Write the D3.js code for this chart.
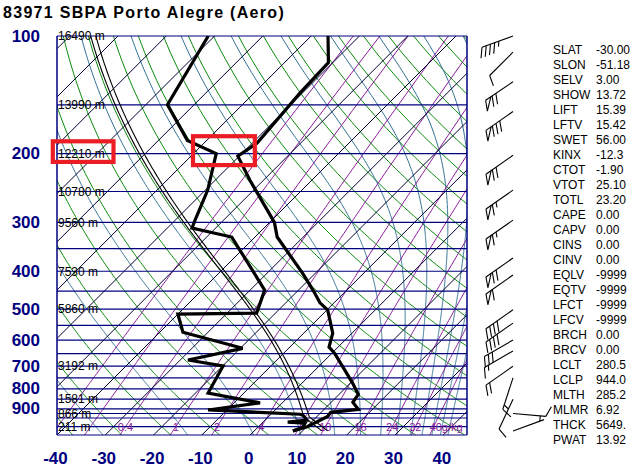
<!DOCTYPE html>
<html><head><meta charset="utf-8">
<script src="https://cdn.jsdelivr.net/npm/d3@7"></script>
<style>body{margin:0;background:#fff}svg{display:block}</style>
</head><body><svg id="c" width="643" height="468"></svg>
<script>
// ---------------- data ----------------
const title = "83971 SBPA Porto Alegre (Aero)";
const presTicks = [100,200,300,400,500,600,700,800,900];
const tempTicks = [-40,-30,-20,-10,0,10,20,30,40];
const isobars = [100,150,200,250,300,350,400,450,500,550,600,650,700,750,800,850,900,925,950,1000,1050];
const isotherms = [-130,-120,-110,-100,-90,-80,-70,-60,-50,-40,-30,-20,-10,0,10,20,30,40];
const dryThetaC = [-40,-30,-20,-10,0,10,20,30,40,50,60,70,80,90,100,110,120,130,140,150,160,170,180,190];
const moistThetaE = [240,260,280,300,320,340,360,380,400,420,440,460,480];
const mixRatios = [0.1,0.2,0.4,1,2,4,7,10,16,24,32,40];
const mixLabels = ["","","0.4","1","2","4","7","10","16","24","32","40g/kg"];
const heightP = [100,150,200,250,300,400,500,700,850,925,1000];
const heightLabels = ["16490 m","13990 m","12210 m","10780 m","9560 m","7530 m","5860 m","3192 m","1581 m","866 m","211 m"];

const tempP = [100,117,140,188,203,234,300,327,405,447,482,503,576,625,649,771,827,866,903,919,941,1000,1025];
const tempC = [-66.5,-60.9,-60.5,-59.0,-60.3,-52.8,-39.0,-35.4,-22.6,-17.0,-12.9,-9.8,-4.0,-1.9,0.6,10.3,14.0,14.5,17.1,12.0,12.2,10.1,8.0];
const dewP  = [100,150,185,200,248,296,310,327,447,512,515,573,630,675,699,820,869,906,929,934,962,973,979,1003,1025];
const dewC  = [-91.3,-85.5,-74.0,-65.3,-59.5,-55.9,-54.9,-44.8,-27.0,-23.9,-40.0,-35.2,-19.5,-28.4,-19.9,-17.4,-4.6,-13.9,6.0,6.8,8.7,5.1,8.9,9.3,8.0];

const windP   = [100,110,131,156,202,248,296,370,409,502,543,600,640,700,750,850,925,1025];
const windDir = [250,225,236,235,235,235,235,235,235,235,235,240,240,235,198,205,95,70];
const windKt  = [45,10,70,80,70,65,65,70,60,40,40,30,15,20,15,10,10,5];

const indexNames  = ["SLAT","SLON","SELV","SHOW","LIFT","LFTV","SWET","KINX","CTOT","VTOT","TOTL","CAPE","CAPV","CINS","CINV","EQLV","EQTV","LFCT","LFCV","BRCH","BRCV","LCLT","LCLP","MLTH","MLMR","THCK","PWAT"];
const indexValues = ["-30.00","-51.18","3.00","13.72","15.39","15.42","56.00","-12.3","-1.90","25.10","23.20","0.00","0.00","0.00","0.00","-9999","-9999","-9999","-9999","0.00","0.00","280.5","944.0","285.2","6.92","5649.","13.92"];
const surfaceP = 1025;

// highlight boxes (annotation) in data terms
const boxLabelP = [186, 210];
const boxKinkP = [180.5, 214]; const boxKinkT = [-70.1, -57.3]; const boxRefP = 200;

// ---------------- scales ----------------
const svg = d3.select("#c");
const PL = 57, PR = 467, PT = 36, PB = 435;
const y = d3.scaleLog().domain([1050,100]).range([PB, PT]);
const x0 = d3.scaleLinear().domain([-40,44.9]).range([PL, PR]);
const X = (T,p) => x0(T) + (y(1050) - y(p));

const FONT = "'Liberation Sans', Arial, Helvetica, sans-serif";
const NAVY = "#000080";

const es = Tc => 6.112*Math.exp(17.67*Tc/(Tc+243.5));
function dTdp(p,T){
  const e = es(T-273.15), rs = 0.622*e/(p-e);
  const Rd=287.04, Lv=2.501e6, cp=1005.7, eps=0.622;
  return (Rd*T + Lv*rs)/(cp + (Lv*Lv*rs*eps)/(Rd*T*T))/p;
}
function moistPath(p0,T0,p1,step){
  const pts=[[p0,T0]]; let p=p0, T=T0; const dir=p1<p0?-1:1;
  while(dir<0? p>p1+1e-9 : p<p1-1e-9){
    let h=step*dir; if(dir<0&&p+h<p1)h=p1-p; if(dir>0&&p+h>p1)h=p1-p;
    const k1=dTdp(p,T),k2=dTdp(p+h/2,T+h/2*k1),k3=dTdp(p+h/2,T+h/2*k2),k4=dTdp(p+h,T+h*k3);
    T+=h/6*(k1+2*k2+2*k3+k4); p+=h; pts.push([p,T]);
  }
  return pts;
}
function thetaE(TK,p){
  const e=es(TK-273.15), r=0.622*e/(p-e), rg=r*1000;
  return TK*Math.pow(1000/p,0.2854*(1-0.28*r))*Math.exp((3.376/TK-0.00254)*rg*(1+0.00081*rg));
}
function tdFromW(w,p){ const e=w*p/(622+w); const l=Math.log(e/6.112); return 243.5*l/(17.67-l); }

// ---------------- drawing ----------------
svg.append("rect").attr("width",643).attr("height",468).attr("fill","#fff");
const defs = svg.append("defs");
defs.append("clipPath").attr("id","plot").append("rect")
  .attr("x",PL).attr("y",PT).attr("width",PR-PL).attr("height",PB-PT);
const bg = svg.append("g").attr("clip-path","url(#plot)");
const lineKT = d3.line().x(d=>X(d[1]-273.15,d[0])).y(d=>y(d[0]));
const lineC  = d3.line().x(d=>X(d[1],d[0])).y(d=>y(d[0]));
const pGrid = d3.range(1050, 99, -5);

dryThetaC.forEach(th=>{
  const pts = pGrid.map(p=>[p,(th+273.15)*Math.pow(p/1000,0.2857)]);
  bg.append("path").attr("d",lineKT(pts)).attr("fill","none").attr("stroke","#0a8a0a").attr("stroke-width",1);
});
moistThetaE.forEach(te=>{
  let lo=120, hi=300;
  for(let i=0;i<60;i++){ const m=(lo+hi)/2; if(thetaE(m,100)<te) lo=m; else hi=m; }
  const pts = moistPath(100,(lo+hi)/2,1050,2);
  bg.append("path").attr("d",lineKT(pts)).attr("fill","none").attr("stroke","#2f6f93").attr("stroke-width",1);
});
mixRatios.forEach(w=>{
  const pts = pGrid.map(p=>[p,tdFromW(w,p)]);
  bg.append("path").attr("d",lineC(pts)).attr("fill","none").attr("stroke","#8a1a9a").attr("stroke-width",1);
});
isotherms.forEach(t=>{
  bg.append("line").attr("x1",X(t,1050)).attr("y1",y(1050)).attr("x2",X(t,100)).attr("y2",y(100))
    .attr("stroke","#000030").attr("stroke-width",1);
});
isobars.forEach(p=>{
  svg.append("line").attr("x1",PL).attr("x2",PR).attr("y1",y(p)).attr("y2",y(p))
    .attr("stroke",NAVY).attr("stroke-width",1.2);
});
svg.append("line").attr("x1",PL).attr("x2",PL).attr("y1",PT).attr("y2",PB).attr("stroke",NAVY).attr("stroke-width",1.5);
svg.append("line").attr("x1",PR).attr("x2",PR).attr("y1",PT).attr("y2",PB).attr("stroke",NAVY).attr("stroke-width",1.5);

mixRatios.forEach((w,i)=>{
  if(!mixLabels[i]) return;
  const last = i===mixRatios.length-1;
  svg.append("text").attr("x",X(tdFromW(w,1000),1000)+(last?-4:0)).attr("y",y(1000)+4.5)
    .attr("text-anchor",last?"start":"middle").attr("font-family",FONT).attr("font-size",11)
    .attr("fill","#8a1a9a").text(mixLabels[i]);
});
heightP.forEach((p,i)=>{
  svg.append("text").attr("x",PL+1).attr("y",y(p)+4.3).attr("font-family",FONT).attr("font-size",12)
    .attr("fill","#000").text(heightLabels[i]);
});

const lclT = +indexValues[indexNames.indexOf("LCLT")];
const lclP = +indexValues[indexNames.indexOf("LCLP")];
const mlmr = +indexValues[indexNames.indexOf("MLMR")]/1000;
const up = moistPath(lclP,lclT,100,2).reverse();
const dry = d3.range(lclP,surfaceP+0.1,5).map(p=>[p,lclT*Math.pow(p/lclP,0.2857)]);
const parcel = up.concat(dry.slice(1));
const parcelV = parcel.map(([p,T])=>{
  let r; if(p>lclP) r=mlmr; else { const e=es(T-273.15); r=0.622*e/(p-e); }
  return [p, T*(1+r/0.622)/(1+r) + (p<lclP? (lclP-p)/lclP*1.2 : 0)];
});
[parcel,parcelV].forEach(pts=>{
  svg.append("g").attr("clip-path","url(#plot)").append("path").attr("d",lineKT(pts))
    .attr("fill","none").attr("stroke","#000").attr("stroke-width",1.1);
});

const plotG = svg.append("g").attr("clip-path","url(#plot)");
plotG.append("path").datum(tempP.map((p,i)=>[p,tempC[i]])).attr("d",lineC)
  .attr("fill","none").attr("stroke","#000").attr("stroke-width",3.2);
plotG.append("path").datum(dewP.map((p,i)=>[p,dewC[i]])).attr("d",lineC)
  .attr("fill","none").attr("stroke","#000").attr("stroke-width",3.2);

presTicks.forEach(p=>{
  svg.append("text").attr("x",40).attr("y",y(p)+5.5).attr("text-anchor","end")
    .attr("font-family",FONT).attr("font-weight","bold").attr("font-size",17).attr("fill",NAVY).text(p);
});
tempTicks.forEach(t=>{
  svg.append("text").attr("x",x0(t)-1.5).attr("y",463.5).attr("text-anchor","middle")
    .attr("font-family",FONT).attr("font-weight","bold").attr("font-size",17).attr("fill",NAVY).text(t);
});
svg.append("text").attr("x",3).attr("y",18).attr("font-family",FONT).attr("font-weight","bold")
  .attr("font-size",16).attr("letter-spacing",1.3).attr("fill","#000").text(title);

const barbX = 513;
function barb(cx,cy,dir,kt){
  const g = svg.append("g").attr("stroke","#000").attr("stroke-width",1.1).attr("fill","none");
  const L=33, r=dir*Math.PI/180, ux=Math.sin(r), uy=-Math.cos(r);
  const tx=cx+ux*L, ty=cy+uy*L;
  g.append("line").attr("x1",cx).attr("y1",cy).attr("x2",tx).attr("y2",ty);
  const a=-65*Math.PI/180, vx=ux*Math.cos(a)-uy*Math.sin(a), vy=ux*Math.sin(a)+uy*Math.cos(a);
  const bl=11, sp=4.5; let rem=Math.round(kt/5)*5, pos=0;
  while(rem>=50){
    const ax=tx-ux*pos, ay=ty-uy*pos, bx=tx-ux*(pos+sp*1.4), by=ty-uy*(pos+sp*1.4);
    g.append("path").attr("d",`M${ax},${ay}L${ax+vx*bl},${ay+vy*bl}L${bx},${by}`);
    pos+=sp*1.4+1.5; rem-=50;
  }
  while(rem>=10){
    const ax=tx-ux*pos, ay=ty-uy*pos;
    g.append("line").attr("x1",ax).attr("y1",ay).attr("x2",ax+vx*bl).attr("y2",ay+vy*bl);
    pos+=sp; rem-=10;
  }
  if(rem>=5){
    if(pos===0) pos=sp;
    const ax=tx-ux*pos, ay=ty-uy*pos;
    g.append("line").attr("x1",ax).attr("y1",ay).attr("x2",ax+vx*bl/2).attr("y2",ay+vy*bl/2);
  }
}
windP.forEach((p,i)=>barb(barbX,y(p),windDir[i],windKt[i]));

indexNames.forEach((n,i)=>{
  const yy = 53.8 + i*15;
  svg.append("text").attr("x",553).attr("y",yy).attr("font-family",FONT).attr("font-size",12).attr("fill","#000").text(n);
  svg.append("text").attr("x",596).attr("y",yy).attr("font-family",FONT).attr("font-size",12).attr("fill","#000").text(indexValues[i]);
});

const RED = "#ec1c24";
svg.append("rect").attr("x",PL-4.2).attr("y",y(boxLabelP[0])).attr("width",60.7)
  .attr("height",y(boxLabelP[1])-y(boxLabelP[0])).attr("fill","none").attr("stroke",RED).attr("stroke-width",4.2);
svg.append("rect").attr("x",X(boxKinkT[0],boxRefP)).attr("y",y(boxKinkP[0]))
  .attr("width",X(boxKinkT[1],boxRefP)-X(boxKinkT[0],boxRefP))
  .attr("height",y(boxKinkP[1])-y(boxKinkP[0])).attr("fill","none").attr("stroke",RED).attr("stroke-width",4.2);
</script></body></html>
